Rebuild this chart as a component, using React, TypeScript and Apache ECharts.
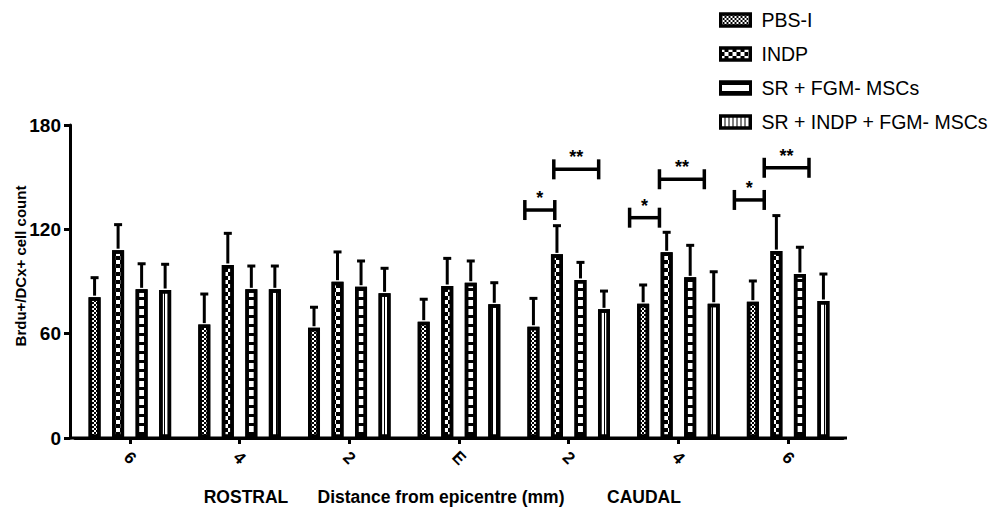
import React, { useEffect, useRef } from "react";
import * as echarts from "echarts";

// ---------- data ----------
const categories = ["6", "4", "2", "E", "2", "4", "6"];
const seriesNames = ["PBS-I", "INDP", "SR + FGM- MSCs", "SR + INDP + FGM- MSCs"];

const pbsMean = [81.0, 65.2, 63.4, 66.9, 64.0, 77.2, 78.4];
const pbsErr = [11.2, 17.6, 11.8, 12.9, 16.3, 10.8, 11.9];
const indpMean = [108.0, 99.5, 89.9, 87.4, 105.6, 106.8, 107.5];
const indpErr = [14.7, 18.2, 17.1, 15.9, 16.5, 11.5, 20.4];
const srMean = [85.5, 85.5, 87.0, 89.3, 90.9, 92.4, 94.3];
const srErr = [14.7, 13.4, 14.8, 12.5, 10.1, 18.4, 15.4];
const srIndpMean = [85.1, 85.5, 83.2, 76.9, 74.0, 77.2, 78.8];
const srIndpErr = [14.8, 13.4, 14.4, 12.4, 10.5, 18.4, 15.5];

const yMin = 0;
const yMax = 180;
const yInterval = 60;

// significance brackets (category index, height, band-relative start/end, label)
const bracketCats = [4, 4, 5, 5, 6, 6];
const bracketY = [131.1, 154.5, 126.7, 148.8, 136.9, 155.4];
const bracketFrom = [-0.4, -0.136, -0.445, -0.173, -0.49, -0.218];
const bracketTo = [-0.127, 0.273, -0.173, 0.236, -0.218, 0.19];
const bracketLabels = ["*", "**", "*", "**", "*", "**"];

const bottomTexts = ["ROSTRAL", "Distance from epicentre (mm)", "CAUDAL"];

// ---------- styling / layout ----------
const FONT = "'Liberation Sans', Arial, sans-serif";
const BAR_W = 12;
const BAR_GAP = 0.96;
const GRID_LEFT = 75;
const GRID_TOP = 125;
const GRID_WIDTH = 768;
const GRID_BOTTOM = 74;
const W = 990;
const H = 512;

const decals: any[] = [
  {
    symbol: "rect",
    symbolSize: 1,
    color: "#000",
    backgroundColor: "#fff",
    dashArrayX: [
      [2, 2],
      [0, 2, 2, 0],
    ],
    dashArrayY: [2, 0],
    rotation: 0,
  },
  {
    symbol: "rect",
    symbolSize: 1,
    color: "#000",
    backgroundColor: "#fff",
    dashArrayX: [
      [4, 4],
      [0, 4, 4, 0],
    ],
    dashArrayY: [4, 0],
    rotation: 0,
  },
  {
    symbol: "rect",
    symbolSize: 1,
    color: "#000",
    backgroundColor: "#fff",
    dashArrayX: [1, 0],
    dashArrayY: [3, 6],
    rotation: 0,
  },
  {
    symbol: "rect",
    symbolSize: 1,
    color: "#000",
    backgroundColor: "#fff",
    dashArrayX: [1, 3],
    dashArrayY: [1, 0],
    rotation: 0,
  },
];

export default function App() {
  const ref = useRef<HTMLDivElement>(null);

  useEffect(() => {
    if (!ref.current) return;
    const chart = echarts.init(ref.current, null, { renderer: "svg" });

    const means = [pbsMean, indpMean, srMean, srIndpMean];
    const errs = [pbsErr, indpErr, srErr, srIndpErr];

    const errorData: number[][] = [];
    means.forEach((m, si) => {
      m.forEach((v, ci) => {
        errorData.push([ci, si, v, errs[si][ci]]);
      });
    });

    const bracketData = bracketCats.map((c, i) => [
      c,
      bracketY[i],
      bracketFrom[i],
      bracketTo[i],
      i,
    ]);

    const barSeries = means.map((m, si) => ({
      type: "bar",
      name: seriesNames[si],
      data: m,
      barWidth: BAR_W,
      barGap: BAR_GAP * 100 + "%",
      itemStyle: {
        color: "#fff",
        borderColor: "#000",
        borderWidth: 3.5,
        decal: decals[si],
      },
      emphasis: { disabled: true },
    }));

    const pitch = BAR_W * (1 + BAR_GAP);
    const gridRight = W - GRID_LEFT - GRID_WIDTH;
    const axisY = H - GRID_BOTTOM;

    chart.setOption({
      animation: false,
      grid: {
        left: GRID_LEFT,
        top: GRID_TOP,
        right: gridRight,
        bottom: GRID_BOTTOM,
        containLabel: false,
      },
      legend: {
        data: seriesNames,
        orient: "vertical",
        left: 714,
        top: 5,
        itemWidth: 30,
        itemHeight: 12,
        itemGap: 14,
        icon: "rect",
        selectedMode: false,
        itemStyle: { borderColor: "#000", borderWidth: 3 },
        textStyle: {
          fontFamily: FONT,
          fontSize: 19.5,
          color: "#000",
          padding: [0, 0, 0, 6],
        },
      },
      xAxis: {
        type: "category",
        data: categories,
        axisLine: { show: true, lineStyle: { color: "#000", width: 3 } },
        axisTick: {
          show: true,
          alignWithLabel: true,
          length: 6,
          lineStyle: { color: "#000", width: 3 },
        },
        axisLabel: {
          rotate: -45,
          margin: 20,
          color: "#000",
          fontFamily: FONT,
          fontWeight: "bold",
          fontSize: 17,
          align: "center",
          verticalAlign: "middle",
        },
        splitLine: { show: false },
      },
      yAxis: {
        type: "value",
        min: yMin,
        max: yMax,
        interval: yInterval,
        offset: 5,
        axisLine: { show: true, lineStyle: { color: "#000", width: 3 } },
        axisTick: {
          show: true,
          length: 6,
          lineStyle: { color: "#000", width: 3 },
        },
        axisLabel: {
          margin: 9,
          color: "#000",
          fontFamily: FONT,
          fontWeight: "bold",
          fontSize: 19,
        },
        splitLine: { show: false },
      },
      series: [
        ...barSeries,
        {
          type: "custom",
          name: "errors",
          data: errorData,
          encode: { x: 0, y: 2 },
          z: 3,
          silent: true,
          renderItem: (params: any, api: any) => {
            const ci = api.value(0);
            const si = api.value(1);
            const mean = api.value(2);
            const err = api.value(3);
            const base = api.coord([ci, mean]);
            const top = api.coord([ci, mean + err]);
            const x = base[0] + (si - 1.5) * pitch;
            return {
              type: "group",
              children: [
                {
                  type: "line",
                  shape: { x1: x, y1: base[1] - 1.5, x2: x, y2: top[1] },
                  style: { stroke: "#000", lineWidth: 3 },
                },
                {
                  type: "line",
                  shape: { x1: x - 4, y1: top[1], x2: x + 4, y2: top[1] },
                  style: { stroke: "#000", lineWidth: 3 },
                },
              ],
            };
          },
        },
        {
          type: "custom",
          name: "brackets",
          data: bracketData,
          encode: { x: 0, y: 1 },
          z: 3,
          silent: true,
          renderItem: (params: any, api: any) => {
            const ci = api.value(0);
            const yv = api.value(1);
            const from = api.value(2);
            const to = api.value(3);
            const li = api.value(4);
            const c = api.coord([ci, yv]);
            const band = api.size([1, 0])[0];
            const x1 = c[0] + from * band;
            const x2 = c[0] + to * band;
            const y = c[1];
            const st = { stroke: "#000", lineWidth: 3.5 };
            return {
              type: "group",
              children: [
                { type: "line", shape: { x1, y1: y, x2, y2: y }, style: st },
                { type: "line", shape: { x1, y1: y - 10, x2: x1, y2: y + 10 }, style: st },
                { type: "line", shape: { x1: x2, y1: y - 10, x2, y2: y + 10 }, style: st },
                {
                  type: "text",
                  x: (x1 + x2) / 2,
                  y: y - 12,
                  style: {
                    text: bracketLabels[li],
                    fill: "#000",
                    font: `bold 18px ${FONT}`,
                    align: "center",
                    verticalAlign: "middle",
                  },
                },
              ],
            };
          },
        },
      ],
      graphic: [
        {
          type: "line",
          shape: { x1: GRID_LEFT - 5, y1: axisY, x2: GRID_LEFT + GRID_WIDTH + 4, y2: axisY },
          style: { stroke: "#000", lineWidth: 3 },
          z: 10,
          silent: true,
        },
        {
          type: "text",
          x: 20,
          y: 266,
          rotation: Math.PI / 2,
          style: {
            text: "Brdu+/DCx+ cell count",
            fill: "#000",
            font: `bold 15px ${FONT}`,
            align: "center",
            verticalAlign: "middle",
          },
        },
        {
          type: "text",
          x: 246,
          y: 497,
          style: {
            text: bottomTexts[0],
            fill: "#000",
            font: `bold 17.5px ${FONT}`,
            align: "center",
            verticalAlign: "middle",
          },
        },
        {
          type: "text",
          x: 441,
          y: 497,
          style: {
            text: bottomTexts[1],
            fill: "#000",
            font: `bold 17.5px ${FONT}`,
            align: "center",
            verticalAlign: "middle",
          },
        },
        {
          type: "text",
          x: 644,
          y: 497,
          style: {
            text: bottomTexts[2],
            fill: "#000",
            font: `bold 17.5px ${FONT}`,
            align: "center",
            verticalAlign: "middle",
          },
        },
      ],
    });

    return () => {
      chart.dispose();
    };
  }, []);

  return (
    <div
      ref={ref}
      style={{ position: "fixed", left: 0, top: 0, width: W, height: H, background: "#fff" }}
    />
  );
}
